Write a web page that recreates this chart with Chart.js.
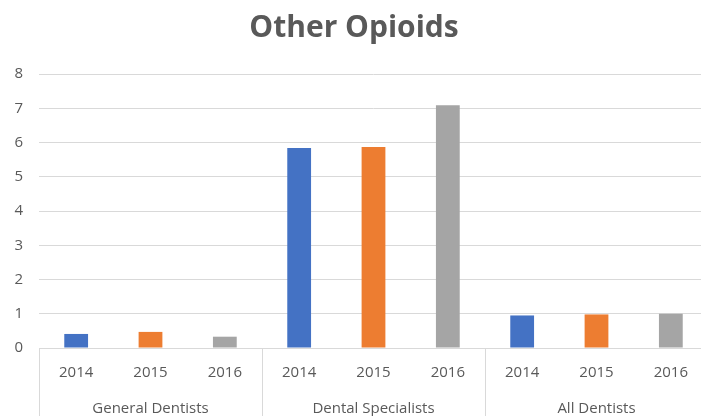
<!DOCTYPE html>
<html>
<head>
<meta charset="utf-8">
<script src="https://cdn.jsdelivr.net/npm/chart.js@4/dist/chart.umd.min.js"></script>
<style>
  html, body { margin: 0; padding: 0; overflow: hidden; background: #fff; }
  #wrap { width: 730px; height: 416px; }
</style>
</head>
<body>
<div id="wrap"><canvas id="opioidChart" width="730" height="416"></canvas></div>
<script>
const groups = ['General Dentists', 'Dental Specialists', 'All Dentists']
const years = ['2014', '2015', '2016']
const generalDentists = [0.41, 0.47, 0.33]
const dentalSpecialists = [5.84, 5.87, 7.09]
const allDentists = [0.95, 0.98, 1.0]
const yearColors = ['#4472c4', '#ed7d31', '#a5a5a5']

const labels = groups.flatMap(() => years)
const values = [...generalDentists, ...dentalSpecialists, ...allDentists]
const barColors = groups.flatMap(() => yearColors)

const textColor = '#595959'
const gridColor = '#d9d9d9'

// vertical dividers between the year groups, below the plot
const groupDividers = {
  id: 'groupDividers',
  afterDraw(chart) {
    const x = chart.scales.x
    const ctx = chart.ctx
    const step = (x.right - x.left) / labels.length
    ctx.save()
    ctx.strokeStyle = gridColor
    ctx.lineWidth = 1
    for (let g = 0; g <= groups.length; g++) {
      const px = Math.round(x.left + g * years.length * step) + 0.5
      ctx.beginPath()
      ctx.moveTo(px, chart.chartArea.bottom)
      ctx.lineTo(px, chart.height)
      ctx.stroke()
    }
    ctx.restore()
  },
}

new Chart(document.getElementById('opioidChart'), {
  type: 'bar',
  data: {
    labels: labels,
    datasets: [
      {
        data: values,
        backgroundColor: barColors,
        barPercentage: 0.32,
        categoryPercentage: 1,
      },
    ],
  },
  options: {
    responsive: false,
    animation: false,
    layout: { padding: { left: 0, right: 22, top: 0, bottom: 0 } },
    plugins: {
      legend: { display: false },
      tooltip: { enabled: false },
      title: {
        display: true,
        text: 'Other Opioids',
        color: textColor,
        font: { family: 'Open Sans', size: 30, weight: 'bold' },
        padding: { top: 10, bottom: 28 },
      },
    },
    scales: {
      y: {
        min: 0,
        max: 8,
        ticks: {
          stepSize: 1,
          color: textColor,
          padding: 16,
          font: { family: 'Open Sans', size: 15 },
        },
        grid: { color: gridColor, drawTicks: false },
        border: { display: false },
        afterFit(scale) {
          scale.width = 39
        },
      },
      x: {
        position: 'bottom',
        grid: { display: false },
        border: { color: gridColor },
        ticks: {
          color: textColor,
          padding: 8,
          font: { family: 'Open Sans', size: 15 },
        },
        afterFit(scale) {
          scale.height = 33
        },
      },
      group: {
        type: 'category',
        position: 'bottom',
        labels: groups,
        offset: true,
        grid: { display: false },
        border: { display: false },
        ticks: {
          color: textColor,
          padding: 11,
          font: { family: 'Open Sans', size: 15 },
        },
        afterFit(scale) {
          scale.height = 35
        },
      },
    },
  },
  plugins: [groupDividers],
})
</script>
</body>
</html>
